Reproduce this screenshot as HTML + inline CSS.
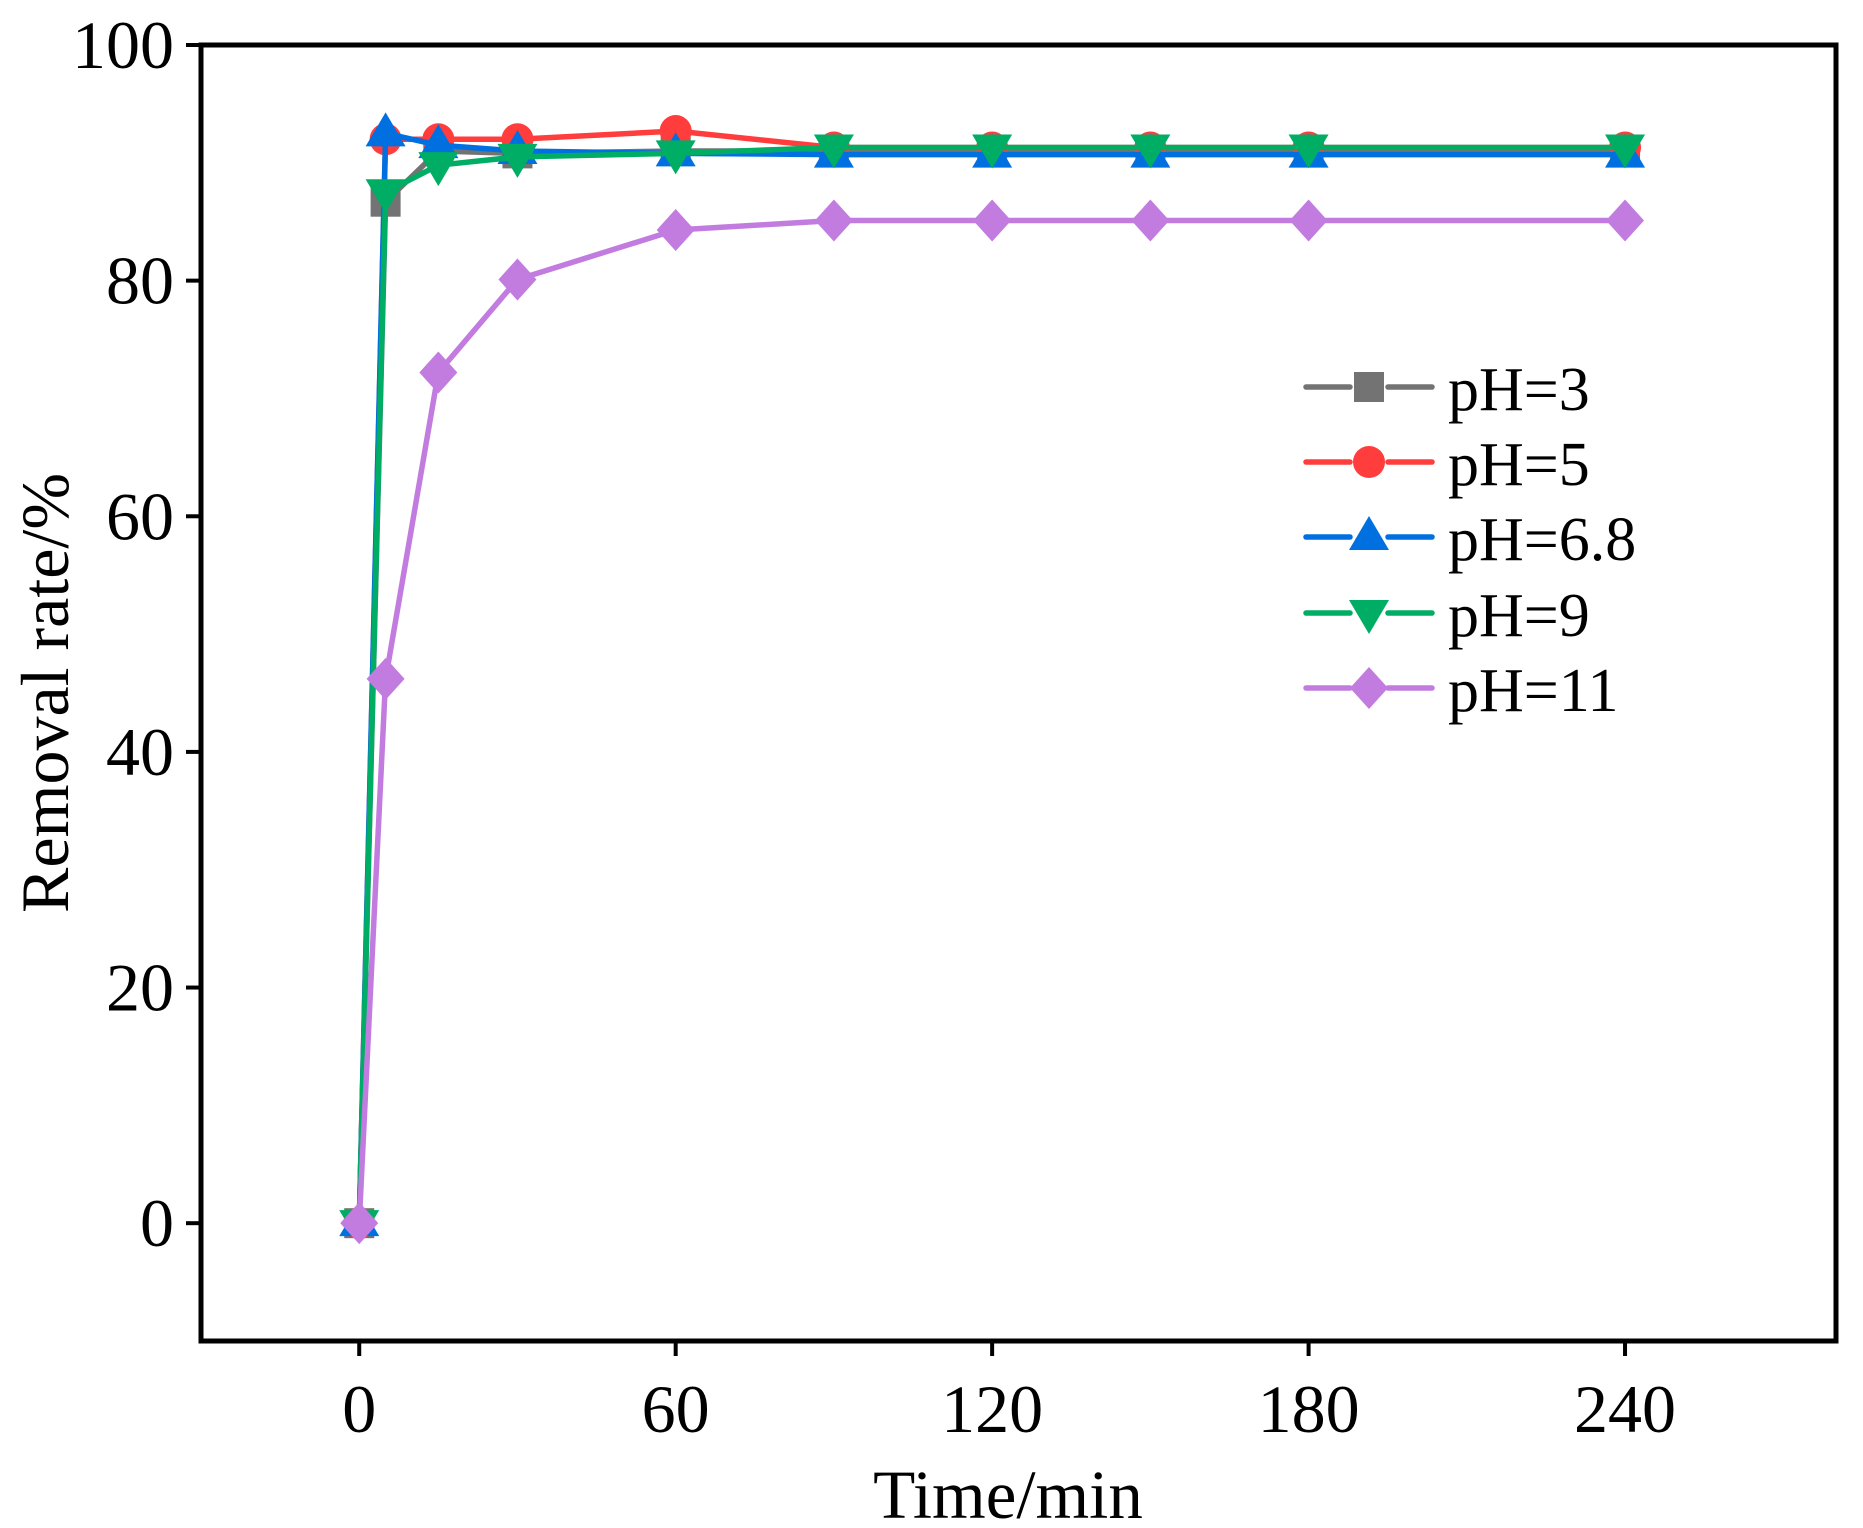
<!DOCTYPE html>
<html><head><meta charset="utf-8"><style>body{margin:0;background:#fff}svg{display:block}text{font-family:"Liberation Serif",serif;fill:#000}</style></head>
<body>
<svg id="chart" width="1863" height="1528" viewBox="0 0 1863 1528" xmlns="http://www.w3.org/2000/svg"></svg>
<script>
const times = [0, 5, 15, 30, 60, 90, 120, 150, 180, 240];
const ph3 = [0, 86.7, 91.0, 90.8, 91.0, 91.0, 91.0, 91.0, 91.0, 91.0];
const ph5 = [0, 92.0, 92.0, 92.0, 92.7, 91.3, 91.3, 91.3, 91.3, 91.3];
const ph68 = [0, 92.5, 91.5, 91.0, 90.8, 90.7, 90.7, 90.7, 90.7, 90.7];
const ph9 = [0, 87.5, 89.8, 90.5, 90.8, 91.3, 91.3, 91.3, 91.3, 91.3];
const ph11 = [0, 46.2, 72.2, 80.1, 84.3, 85.1, 85.1, 85.1, 85.1, 85.1];
const xTicks = [0, 60, 120, 180, 240];
const yTicks = [0, 20, 40, 60, 80, 100];
const seriesNames = ["pH=3", "pH=5", "pH=6.8", "pH=9", "pH=11"];

const svg = document.getElementById('chart');
const NS = 'http://www.w3.org/2000/svg';
const L = 201, R = 1836, T = 45, B = 1341;
const X0 = -30, X1 = 280, Y0 = -10, Y1 = 100;
function sx(v){ return L + (v - X0) / (X1 - X0) * (R - L); }
function sy(v){ return B - (v - Y0) / (Y1 - Y0) * (B - T); }
function mk(tag, attrs, parent){
  const e = document.createElementNS(NS, tag);
  for (const k in attrs) e.setAttribute(k, attrs[k]);
  (parent || svg).appendChild(e);
  return e;
}

const series = [
  {name: seriesNames[0], vals: ph3, color: '#737373', shape: 'square'},
  {name: seriesNames[1], vals: ph5, color: '#FF3D3D', shape: 'circle'},
  {name: seriesNames[2], vals: ph68, color: '#0070E0', shape: 'up'},
  {name: seriesNames[3], vals: ph9, color: '#00AD64', shape: 'down'},
  {name: seriesNames[4], vals: ph11, color: '#C27CDF', shape: 'diamond'}
];

function marker(shape, x, y, color, g){
  let e;
  if (shape === 'square') e = mk('rect', {x: x-15, y: y-15, width: 30, height: 30, fill: color}, g);
  else if (shape === 'circle') e = mk('circle', {cx: x, cy: y, r: 16, fill: color}, g);
  else if (shape === 'up') e = mk('polygon', {points: `${x},${y-21} ${x-20},${y+13} ${x+20},${y+13}`, fill: color}, g);
  else if (shape === 'down') e = mk('polygon', {points: `${x},${y+21} ${x-20},${y-13} ${x+20},${y-13}`, fill: color}, g);
  else e = mk('polygon', {points: `${x},${y-21} ${x+19},${y} ${x},${y+21} ${x-19},${y}`, fill: color}, g);
  return e;
}

const axG = mk('g', {});


xTicks.forEach(t => {
  const l = mk('line', {x1: sx(t), x2: sx(t), y1: B, y2: B + 15, stroke: '#000', 'stroke-width': 4}, axG);
  
  
  const tx = mk('text', {x: sx(t), y: 1432, 'text-anchor': 'middle', 'font-size': 68}, axG);
  tx.textContent = t;
  
  
});
yTicks.forEach(t => {
  const l = mk('line', {x1: L - 15, x2: L, y1: sy(t), y2: sy(t), stroke: '#000', 'stroke-width': 4}, axG);
  
  
  const tx = mk('text', {x: 174, y: sy(t) + 23, 'text-anchor': 'end', 'font-size': 68}, axG);
  tx.textContent = t;
  
  
});
const xt = mk('text', {x: 1008, y: 1518, 'text-anchor': 'middle', 'font-size': 69}, axG);
xt.textContent = 'Time/min';


const yt = mk('text', {x: 0, y: 0, 'text-anchor': 'middle', 'font-size': 68, transform: 'translate(68,693) rotate(-90)'}, axG);
yt.textContent = 'Removal rate/%';



series.forEach(s => {
  const g = mk('g', {});
  
  
  const pts = times.map((t, i) => sx(t) + ',' + sy(s.vals[i])).join(' ');
  const pl = mk('polyline', {points: pts, fill: 'none', stroke: s.color, 'stroke-width': 5.5, 'stroke-linejoin': 'round'}, g);
  
  
  times.forEach((t, i) => {
    const m = marker(s.shape, sx(t), sy(s.vals[i]), s.color, g);
    
    
  });
});

const fr = mk('rect', {x: L, y: T, width: R - L, height: B - T, fill: 'none', stroke: '#000', 'stroke-width': 5});



const lg = mk('g', {});


const rowY = [387, 462, 537, 613, 688];
series.forEach((s, i) => {
  const g = mk('g', {}, lg);
  
  
  const y = rowY[i];
  mk('line', {x1: 1306, x2: 1350, y1: y, y2: y, stroke: s.color, 'stroke-width': 5.5, 'stroke-linecap': 'round'}, g);
  mk('line', {x1: 1388, x2: 1432, y1: y, y2: y, stroke: s.color, 'stroke-width': 5.5, 'stroke-linecap': 'round'}, g);
  marker(s.shape, 1369, y, s.color, g);
  const tx = mk('text', {x: 1448, y: y + 23, 'font-size': 62}, g);
  tx.textContent = s.name;
});
</script>
</body></html>
